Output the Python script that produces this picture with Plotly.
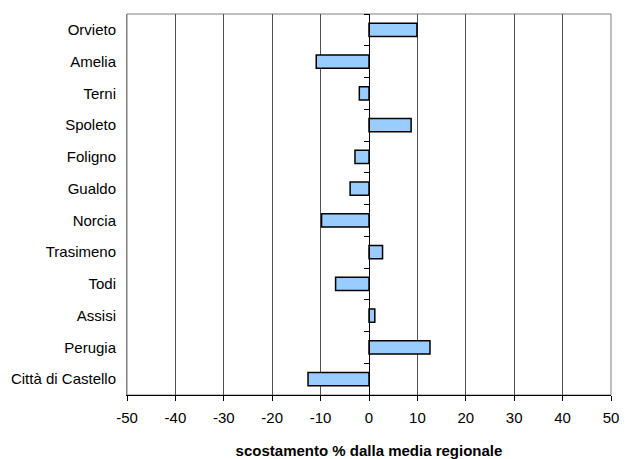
import plotly.graph_objects as go

categories = ["Città di Castello", "Perugia", "Assisi", "Todi", "Trasimeno", "Norcia",
              "Gualdo", "Foligno", "Spoleto", "Terni", "Amelia", "Orvieto"]
values = [-12.6, 12.6, 1.2, -6.9, 2.8, -9.8, -3.9, -2.9, 8.7, -2.0, -10.9, 9.9]
x_ticks = [-50, -40, -30, -20, -10, 0, 10, 20, 30, 40, 50]
x_title = "scostamento % dalla media regionale"

font = dict(family="Liberation Sans, Arial, sans-serif", size=15, color="black")

fig = go.Figure()
fig.add_trace(go.Bar(
    y=categories, x=values, orientation="h",
    marker=dict(color="#99CCFF", line=dict(color="black", width=1.5)),
    width=0.41, showlegend=False, hoverinfo="x+y",
))
# helper trace so the category-divider axis at x=0 is drawn
fig.add_trace(go.Scatter(x=[None], y=[None], yaxis="y2", showlegend=False, hoverinfo="skip"))

n = len(categories)
divider_ticks = [i - 0.5 for i in range(n + 1)]

# the page body adds an 8px margin, so the figure is sized/offset to compensate
fig.update_layout(
    width=619, height=451,
    margin=dict(l=119, r=16, t=6, b=64, autoexpand=False),
    paper_bgcolor="white", plot_bgcolor="white",
    font=font,
    xaxis=dict(
        range=[-50, 50], tickvals=x_ticks, ticktext=[str(v) for v in x_ticks],
        showgrid=True, gridcolor="#505050", gridwidth=1,
        zeroline=False,
        showline=True, linecolor="black", linewidth=1,
        ticks="outside", ticklen=5, tickcolor="black",
        ticklabelstandoff=4, ticklabeloverflow="allow",
        tickfont=font, automargin=False,
        title=dict(text="<b>" + x_title + "</b>", font=dict(family=font["family"], size=15, color="black"), standoff=20),
        fixedrange=True,
    ),
    yaxis=dict(
        categoryorder="array", categoryarray=categories,
        range=[-0.5, n - 0.5],
        showgrid=False, zeroline=False,
        showline=True, linecolor="#808080", linewidth=1,
        ticks="outside", ticklen=7, tickcolor="rgba(0,0,0,0)",
        tickfont=font, fixedrange=True, automargin=False,
    ),
    yaxis2=dict(
        overlaying="y", anchor="free", position=0.5, side="left",
        range=[-0.5, n - 0.5],
        tickvals=divider_ticks, showticklabels=False,
        ticks="outside", ticklen=5, tickcolor="black",
        showline=True, linecolor="black", linewidth=1,
        showgrid=False, zeroline=False, fixedrange=True, automargin=False,
    ),
    shapes=[dict(type="rect", xref="paper", yref="paper", x0=0, x1=1, y0=0, y1=1,
                 line=dict(color="#808080", width=1), layer="below")],
    bargap=0.59,
)

fig.write_html("out.html")
